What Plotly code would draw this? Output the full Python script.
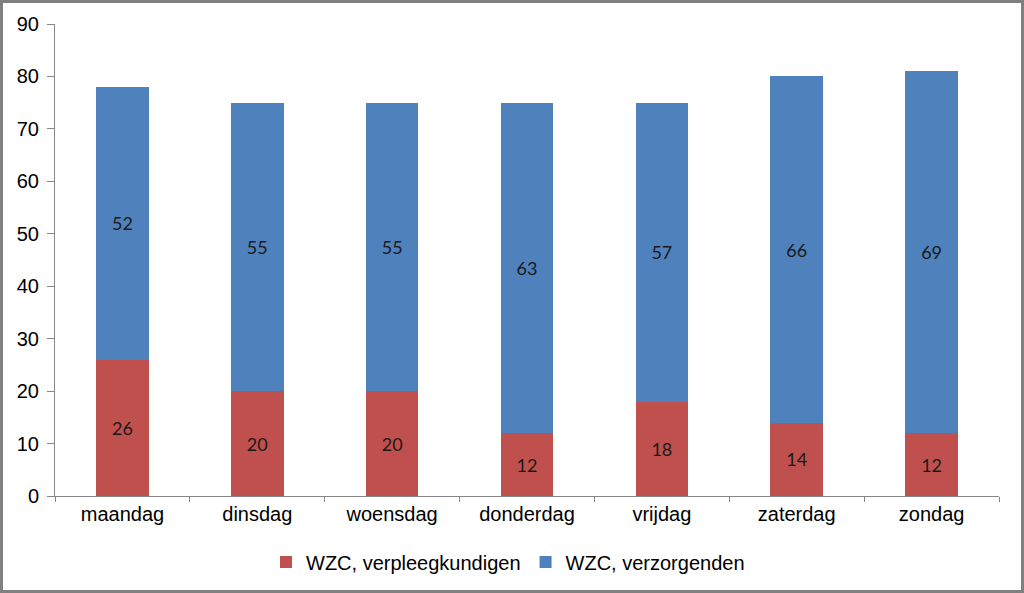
import plotly.graph_objects as go

days = ["maandag", "dinsdag", "woensdag", "donderdag", "vrijdag", "zaterdag", "zondag"]
verpleegkundigen = [26, 20, 20, 12, 18, 14, 12]
verzorgenden = [52, 55, 55, 63, 57, 66, 69]
y_ticks = [0, 10, 20, 30, 40, 50, 60, 70, 80, 90]

W, H = 1024, 593
ml, mr, mt, mb = 55, 25, 24, 97

label_font = dict(family="Lato, Liberation Sans, sans-serif", size=18, color="#1a1a1a")

fig = go.Figure()
fig.add_trace(go.Bar(
    x=days, y=verpleegkundigen, name="WZC, verpleegkundigen",
    marker=dict(color="#C0504D", line=dict(width=0)),
    text=verpleegkundigen, textposition="inside", insidetextanchor="middle",
    textfont=label_font, width=0.39,
))
fig.add_trace(go.Bar(
    x=days, y=verzorgenden, name="WZC, verzorgenden",
    marker=dict(color="#4F81BD", line=dict(width=0)),
    text=verzorgenden, textposition="inside", insidetextanchor="middle",
    textfont=label_font, width=0.39,
))

pw = W - ml - mr
ph = H - mt - mb
fx = lambda px: (px - ml) / pw
fy = lambda py: (H - mb - py) / ph

fig.update_layout(
    barmode="stack",
    width=W, height=H,
    margin=dict(l=ml, r=mr, t=mt, b=mb),
    paper_bgcolor="white", plot_bgcolor="white",
    font=dict(family="Liberation Sans, Arial, sans-serif", size=20, color="#000000"),
    showlegend=True,
    legend=dict(orientation="h", x=fx(508), xanchor="center", y=fy(562), yanchor="middle",
                font=dict(size=20), traceorder="normal", itemwidth=30),
    xaxis=dict(showline=True, linecolor="#868686", linewidth=1, ticks="outside",
               tickson="boundaries", ticklen=5, tickcolor="#868686",
               tickfont=dict(size=20), showgrid=False),
    yaxis=dict(range=[0, 90], tickvals=y_ticks, showline=True, linecolor="#868686",
               linewidth=1, ticks="outside", ticklen=7, tickcolor="#868686",
               tickfont=dict(size=20), showgrid=False, zeroline=False, ticklabelstandoff=4),
    shapes=[dict(type="rect", xref="paper", yref="paper",
                 x0=fx(1.5), x1=fx(W - 1.5), y0=fy(H - 1.5), y1=fy(1.5),
                 line=dict(color="#808080", width=3), fillcolor="rgba(0,0,0,0)", layer="above")],
)

fig.write_html("out.html", config={"displayModeBar": False},
               post_script="document.body.style.margin='0';document.body.style.overflow='hidden';")
